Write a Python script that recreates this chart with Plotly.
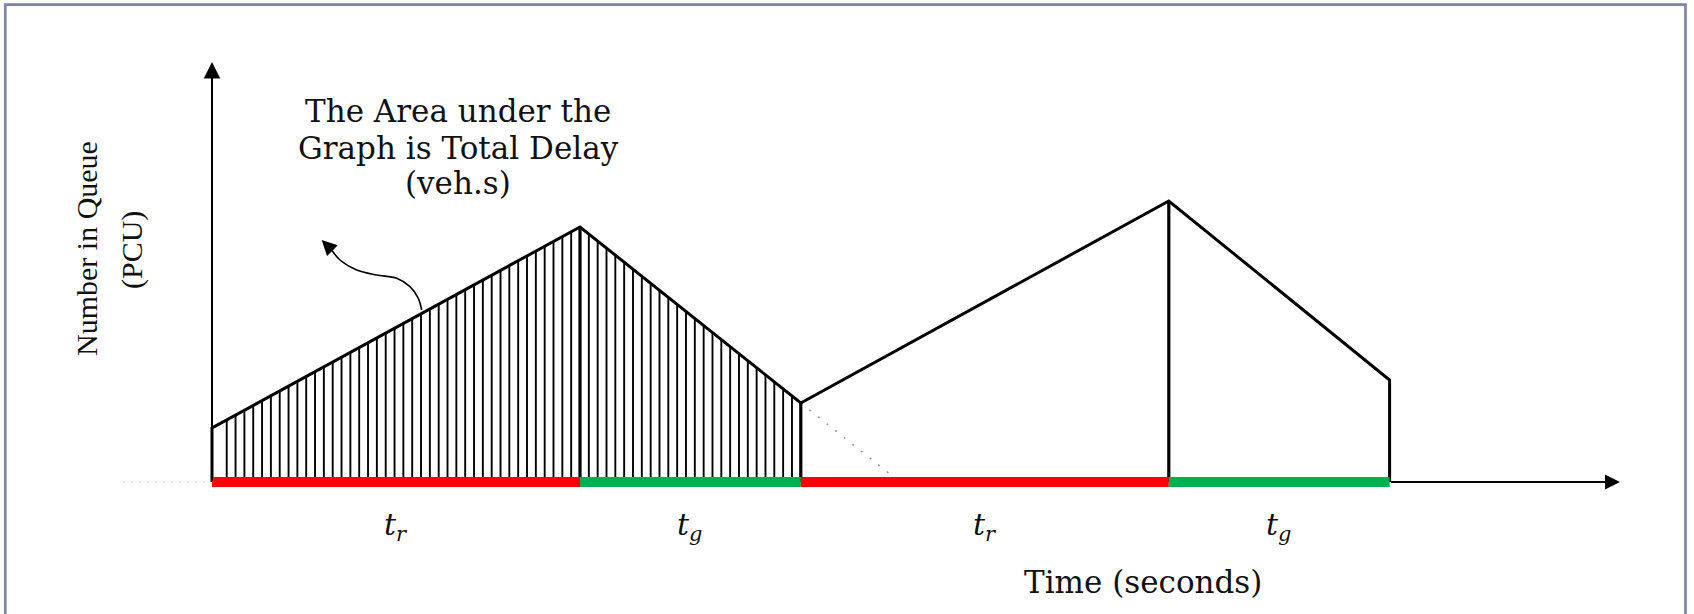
import numpy as np
import plotly.graph_objects as go

# Signal phases (seconds): red, green, red, green
phase_names = ["r", "g", "r", "g"]
phase_colors = ["#ff0000", "#00b050", "#ff0000", "#00b050"]
phase_start = [0, 50, 80, 130]
phase_end = [50, 80, 130, 160]

# Queue length (PCU) at each phase change
queue_time = [0, 50, 80, 130, 160]
queue_len = [5.4, 25.5, 7.9, 28.1, 10.2]

# Hatched cycle and hatch spacing (seconds)
hatch_from, hatch_to = 0, 80
hatch_step = 1.2

# Axis extents
time_axis_min, time_axis_max = -12, 191.3
queue_axis_max = 42.0

# Curved pointer from the hatched area to the note
pointer_t = [28.49, 28.03, 26.9, 25.1, 22.38, 19.66, 17.39, 16.26]
pointer_q = [17.2, 18.37, 19.53, 20.37, 20.7, 21.2, 22.2, 23.2]
pointer_tip = (14.9, 24.2)

W, H = 1694, 614
PX_PER_S, PX_PER_Q = 7.36, 10.0
X0_PX, Y0_PX = 212, 482
x_range = [-X0_PX / PX_PER_S, (W - X0_PX) / PX_PER_S]
y_range = [-(H - Y0_PX) / PX_PER_Q, Y0_PX / PX_PER_Q]


def px(xp):
    return xp / W


def py(yp):
    return 1 - yp / H


fig = go.Figure()

# extension of the first discharge line down to the time axis
slope = (queue_len[2] - queue_len[1]) / (queue_time[2] - queue_time[1])
t_zero = queue_time[2] - queue_len[2] / slope
fig.add_trace(go.Scatter(
    x=[queue_time[2], t_zero], y=[queue_len[2], 0], mode="lines",
    line=dict(color="#9a9a9a", width=1.5, dash="2px,9px"), hoverinfo="skip"))

# faint extension of the time axis to the left
fig.add_trace(go.Scatter(
    x=[time_axis_min, 0], y=[0, 0], mode="lines",
    line=dict(color="#b0b0b0", width=1.2, dash="1px,7px"), hoverinfo="skip"))

# vertical hatching under the first cycle
k = np.arange(-60, 60)
ht = queue_time[1] + k * hatch_step
ht = ht[(ht >= hatch_from + 1.0) & (ht <= hatch_to)]
hq = np.interp(ht, queue_time, queue_len)
hx, hy = [], []
for t, q in zip(ht, hq):
    hx += [t, t, None]
    hy += [0, q, None]
fig.add_trace(go.Scatter(x=hx, y=hy, mode="lines",
                         line=dict(color="black", width=1.9), hoverinfo="skip"))

# queue profile outline
ox = [queue_time[0]] + queue_time + [queue_time[-1]]
oy = [0] + queue_len + [0]
fig.add_trace(go.Scatter(x=ox, y=oy, mode="lines",
                         line=dict(color="black", width=3), hoverinfo="skip"))
vx, vy = [], []
for t, q in zip(queue_time[1:-1], queue_len[1:-1]):
    vx += [t, t, None]
    vy += [0, q, None]
fig.add_trace(go.Scatter(x=vx, y=vy, mode="lines",
                         line=dict(color="black", width=3.2), hoverinfo="skip"))

# curved pointer
fig.add_trace(go.Scatter(x=pointer_t, y=pointer_q, mode="lines",
                         line=dict(color="black", width=1.6, shape="spline", smoothing=1.0),
                         hoverinfo="skip"))

shapes = []
# phase bars along the time axis
for s, e, c in zip(phase_start, phase_end, phase_colors):
    shapes.append(dict(type="rect", xref="x", yref="y", x0=s, x1=e, y0=-0.5, y1=0.5,
                       fillcolor=c, line=dict(width=0), layer="above"))
# frame
shapes.append(dict(type="rect", xref="paper", yref="paper",
                   x0=px(5.3), x1=px(1685.5), y0=-0.05, y1=py(4.7),
                   line=dict(color="#7c84a9", width=2.7), fillcolor="rgba(0,0,0,0)"))

annotations = []
# axes with arrowheads
annotations.append(dict(x=0, y=queue_axis_max, ax=0, ay=0, xref="x", yref="y",
                        axref="x", ayref="y", showarrow=True, arrowhead=2,
                        arrowwidth=2, arrowsize=1.65, arrowcolor="black", text=""))
annotations.append(dict(x=time_axis_max, y=0, ax=phase_end[-1], ay=0, xref="x", yref="y",
                        axref="x", ayref="y", showarrow=True, arrowhead=2,
                        arrowwidth=2, arrowsize=1.5, arrowcolor="black", text=""))
# pointer head
annotations.append(dict(x=pointer_tip[0], y=pointer_tip[1], ax=pointer_t[-1], ay=pointer_q[-1],
                        xref="x", yref="y", axref="x", ayref="y", showarrow=True,
                        arrowhead=2, arrowwidth=1.6, arrowsize=1.9, arrowcolor="black", text=""))

serif = "DejaVu Serif"
note_lines = ["The Area under the", "Graph is Total Delay", "(veh.s)"]
note_y = [111, 147.5, 183]
for txt, yy in zip(note_lines, note_y):
    annotations.append(dict(x=px(458), y=py(yy), xref="paper", yref="paper", text=txt,
                            showarrow=False, xanchor="center", yanchor="middle",
                            font=dict(family=serif, size=31, color="#111")))

annotations.append(dict(x=px(1143), y=py(582), xref="paper", yref="paper",
                        text="Time (seconds)", showarrow=False,
                        xanchor="center", yanchor="middle",
                        font=dict(family=serif, size=31, color="#111")))

annotations.append(dict(x=px(87), y=py(249), xref="paper", yref="paper",
                        text="Number in Queue", textangle=-90, showarrow=False,
                        xanchor="center", yanchor="middle",
                        font=dict(family="Liberation Serif", size=30, color="#111")))
annotations.append(dict(x=px(132), y=py(250), xref="paper", yref="paper",
                        text="(PCU)", textangle=-90, showarrow=False,
                        xanchor="center", yanchor="middle",
                        font=dict(family="Liberation Serif", size=30, color="#111")))

for s, e, n in zip(phase_start, phase_end, phase_names):
    annotations.append(dict(x=(s + e) / 2, y=py(526), xref="x", yref="paper",
                            text=f"<i>t</i><sub><i>{n}</i></sub>", showarrow=False,
                            xanchor="center", yanchor="middle",
                            font=dict(family=serif, size=30, color="#111")))

fig.update_layout(
    width=W, height=H, margin=dict(l=0, r=0, t=0, b=0),
    paper_bgcolor="white", plot_bgcolor="white", showlegend=False,
    xaxis=dict(range=x_range, visible=False, fixedrange=True),
    yaxis=dict(range=y_range, visible=False, fixedrange=True),
    shapes=shapes, annotations=annotations,
)

fig.write_html("out.html")
